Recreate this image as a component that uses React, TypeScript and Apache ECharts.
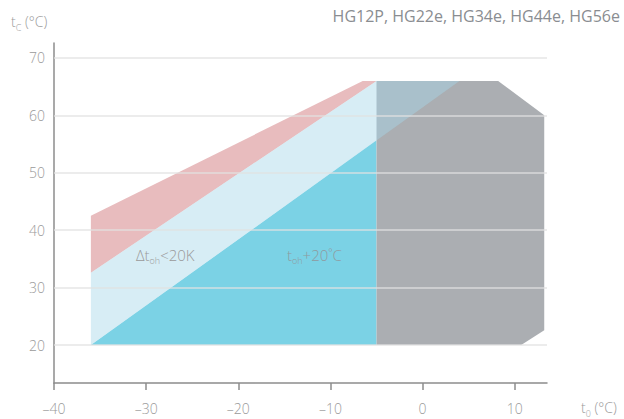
import React, { useEffect, useRef } from "react";
import * as echarts from "echarts";

// Axis ticks
const xTicks = [-40, -30, -20, -10, 0, 10];
const yTicks = [20, 30, 40, 50, 60, 70];

// Polygons (t0 °C, tc °C)
const redBand = [[-36, 32.6], [-36, 42.5], [-6.5, 66], [-5, 66]];
const lightBand = [[-36, 20], [-36, 32.6], [-5, 66], [4, 66]];
const darkBlueArea = [[-36, 20], [-5, 55.65], [-5, 20]];
const grayArea = [[-5, 20], [-5, 66], [8.2, 66], [13.2, 60], [13.2, 22.6], [10.7, 20]];

const title = "HG12P, HG22e, HG34e, HG44e, HG56e";

const X_MIN = -40;
const X_MAX = 13.5;

const FONT = "'Open Sans', Lato, sans-serif";
const TXT = "#9a9a9a";

function polySeries(name: string, pts: number[][], color: string, z: number, extra: any = {}) {
  return {
    type: "custom",
    name,
    data: pts,
    encode: { x: 0, y: 1 },
    z,
    silent: true,
    renderItem: (params: any, api: any) => {
      if (params.dataIndex !== 0) return null;
      return {
        type: "polygon",
        shape: { points: pts.map((p) => api.coord(p)) },
        style: { fill: color },
      };
    },
    ...extra,
  };
}

const rich = (color: string, size = 14) => ({
  a: { fontSize: size, fill: color, fontFamily: FONT, fontWeight: 300, lineHeight: 16, verticalAlign: "top" },
  s: { fontSize: 9, fill: color, fontFamily: FONT, fontWeight: 300, lineHeight: 10, padding: [9, 0, 0, 0], verticalAlign: "top" },
});

export default function App() {
  const ref = useRef<HTMLDivElement>(null);
  useEffect(() => {
    const chart = echarts.init(ref.current!, null, { renderer: "svg" });
    const option: any = {
      animation: false,
      grid: { left: 54, right: 77, top: 43, bottom: 36 },
      xAxis: {
        type: "value",
        min: X_MIN,
        max: X_MAX,
        axisLine: { show: true, onZero: false, lineStyle: { color: "#8c8c8c", width: 1.5 } },
        axisTick: { show: true, length: 7, customValues: xTicks, lineStyle: { color: "#8c8c8c", width: 1.5 } },
        axisLabel: {
          customValues: xTicks,
          color: TXT,
          fontSize: 14,
          fontFamily: FONT,
          fontWeight: 300,
          margin: 18,
          formatter: (v: number) => String(v).replace("-", "–"),
        },
        splitLine: { show: false },
      },
      yAxis: {
        type: "value",
        min: 13.4,
        max: 72.6,
        axisLine: { show: true, onZero: false, lineStyle: { color: "#8c8c8c", width: 1.5 } },
        axisTick: { show: false, customValues: yTicks },
        axisLabel: { customValues: yTicks, color: TXT, fontSize: 14, fontFamily: FONT, fontWeight: 300, margin: 9 },
        splitLine: { show: false },
      },
      series: [
        polySeries("red", redBand, "#e8bcbe", 1),
        polySeries("darkblue", darkBlueArea, "#7bd2e5", 1),
        polySeries("gray", grayArea, "#abaeb2", 1),
        polySeries("light", lightBand, "rgba(167,216,233,0.45)", 2, {
          markLine: {
            silent: true,
            symbol: "none",
            label: { show: false },
            lineStyle: { color: "rgba(225,225,225,0.85)", width: 1.5, type: "solid" },
            data: yTicks.map((v) => [{ coord: [X_MIN, v] }, { coord: [X_MAX, v] }]),
          },
        }),
      ],
      graphic: [
        {
          type: "text",
          right: 4,
          top: 8,
          style: { text: title, fill: "#8a8d91", fontSize: 16, fontFamily: FONT, fontWeight: 400 },
        },
        {
          type: "text",
          left: 11,
          top: 14,
          style: { text: "{a|t}{s|C}{a| (°C)}", rich: rich(TXT) },
        },
        {
          type: "text",
          left: 581,
          top: 400,
          style: { text: "{a|t}{s|0}{a| (°C)}", rich: rich(TXT) },
        },
        {
          type: "text",
          left: 136,
          top: 247,
          z: 10,
          style: { text: "{a|Δt}{s|oh}{a|<20K}", rich: rich(TXT, 15) },
        },
        {
          type: "text",
          left: 287,
          top: 247,
          z: 10,
          style: { text: "{a|t}{s|oh}{a|+20˚C}", rich: rich("#8f9aa0", 15) },
        },
      ],
    };
    chart.setOption(option);
    return () => chart.dispose();
  }, []);
  return (
    <div
      ref={ref}
      style={{ position: "absolute", left: 0, top: 0, width: 624, height: 419, background: "#fff" }}
    />
  );
}
